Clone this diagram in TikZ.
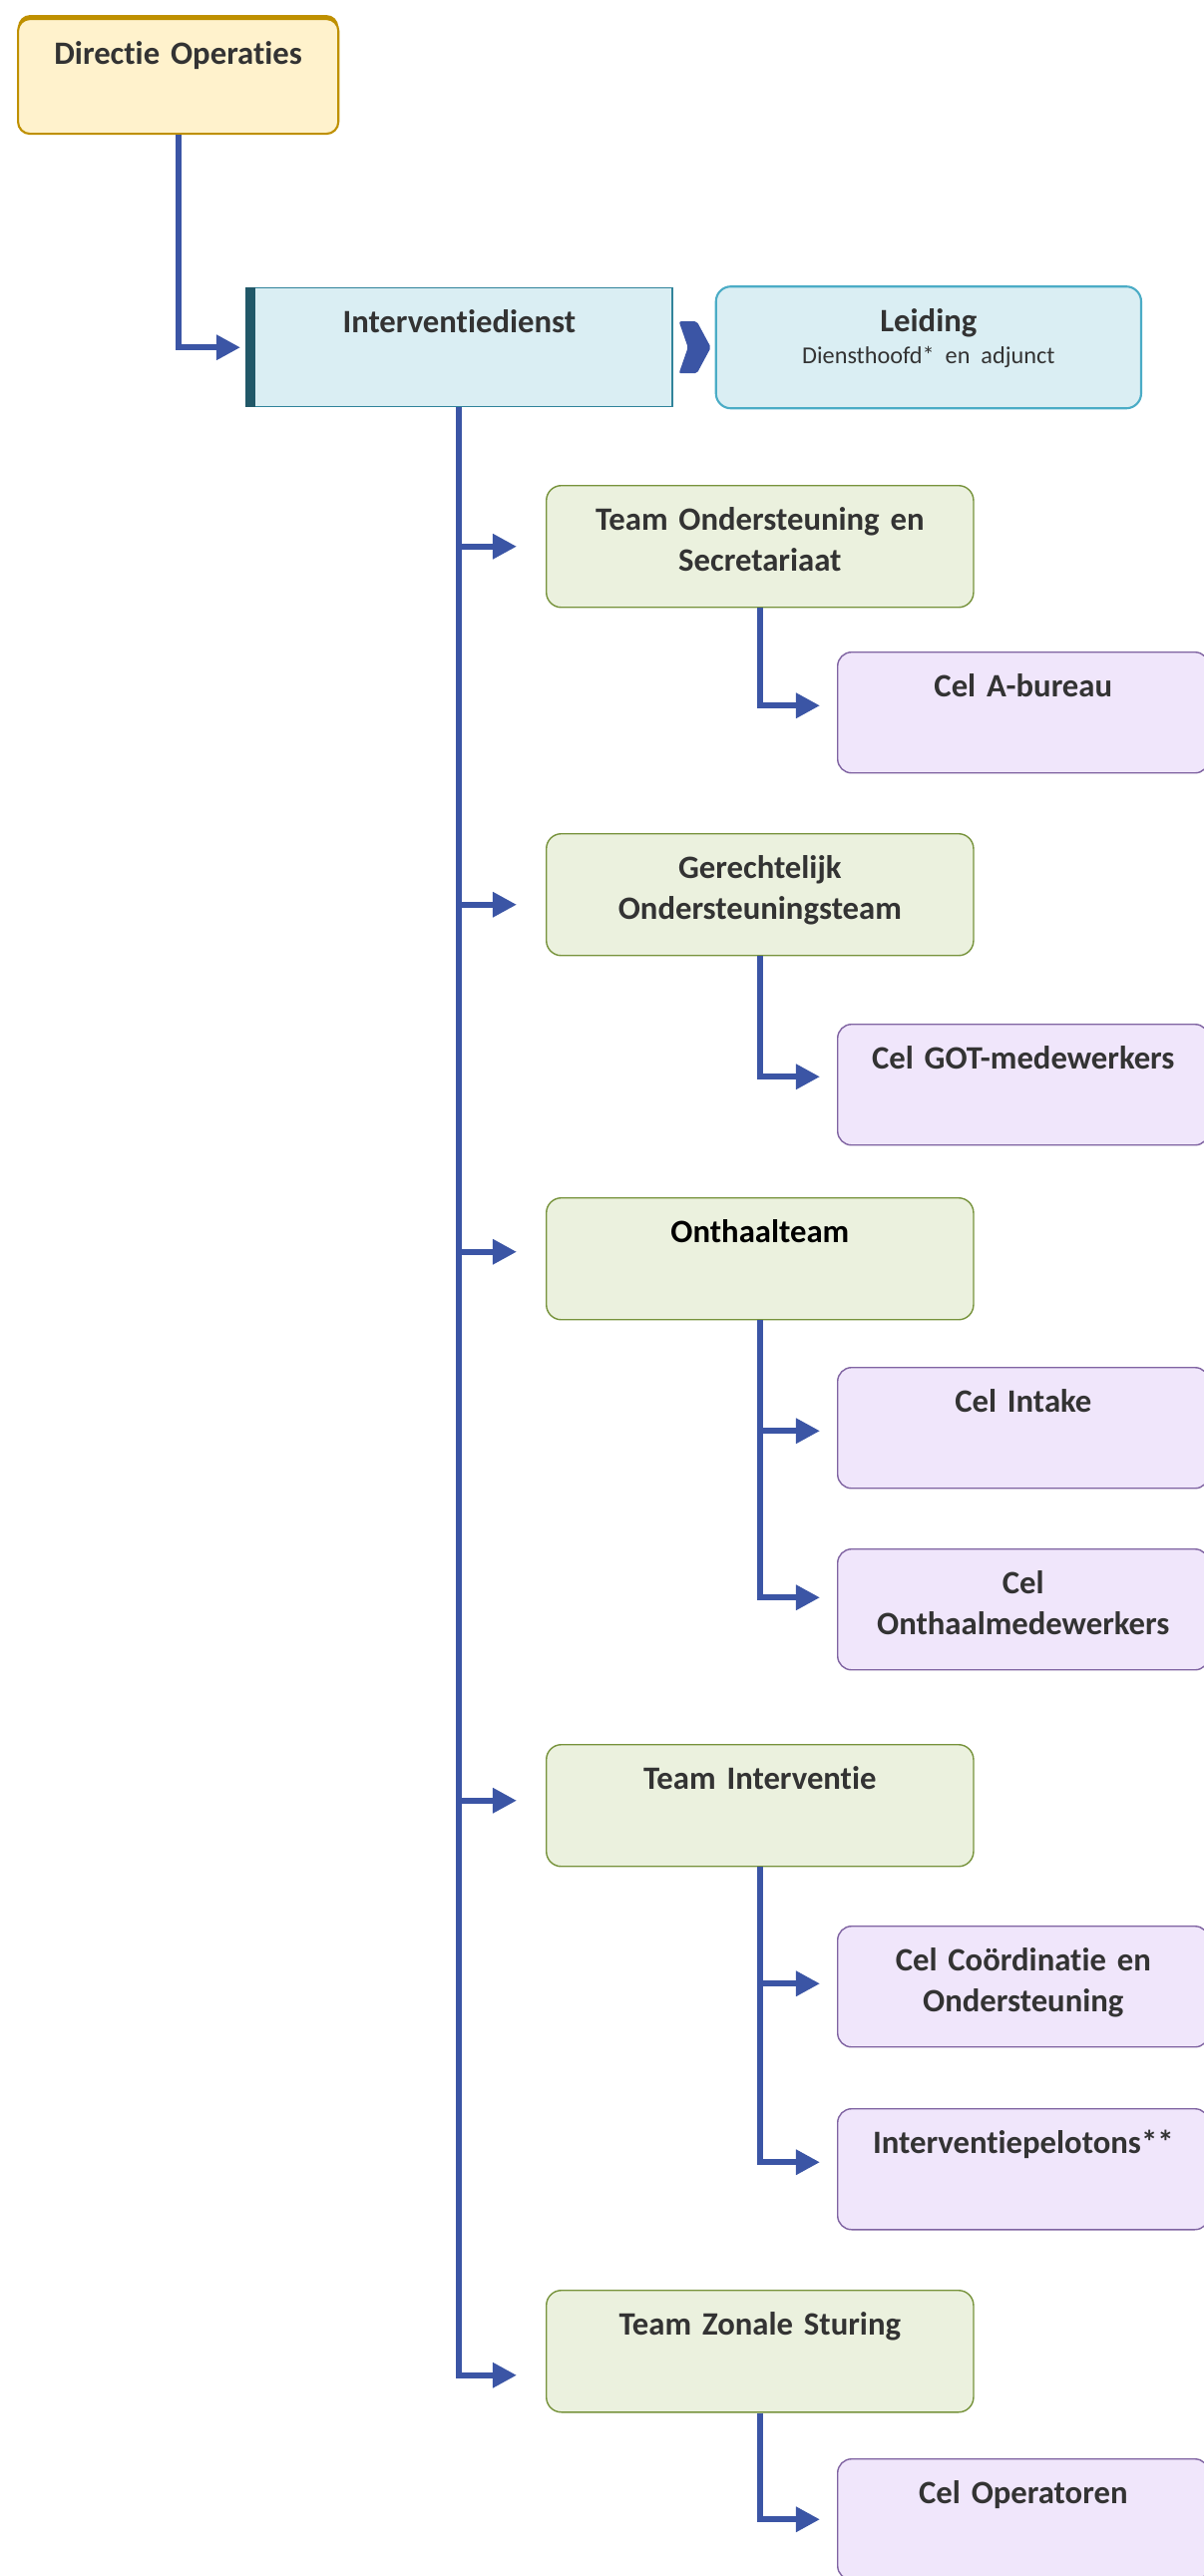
\documentclass[tikz,border=0pt]{standalone}
\usepackage{fontspec}
\setmainfont{Carlito}[Ligatures=NoCommon]
\usetikzlibrary{arrows.meta, positioning, shadows}

\definecolor{dirfill}{HTML}{FFF2CC}
\definecolor{dirline}{HTML}{BF9000}
\definecolor{idsfill}{HTML}{DAEEF3}
\definecolor{idsline}{HTML}{31849B}
\definecolor{idsbar}{HTML}{215868}
\definecolor{leidline}{HTML}{4BACC6}
\definecolor{teamfill}{HTML}{EBF1DE}
\definecolor{teamline}{HTML}{77933C}
\definecolor{celfill}{HTML}{F0E6FB}
\definecolor{celline}{HTML}{8064A2}
\definecolor{connblue}{HTML}{3B55A5}
\definecolor{txtgray}{HTML}{333333}

\begin{document}
\begin{tikzpicture}[
              x=0.01cm, y=-0.01cm,
              orgbox/.style={draw, line width=0.4pt, align=center, inner sep=0pt, anchor=north west,
                text height=0.45cm, text=txtgray, font=\bfseries\fontsize{9.3}{11.7}\selectfont},
              directie/.style={orgbox, fill=dirfill, draw=dirline, line width=0.6pt, rounded corners=0.12cm,
                text width=3.21cm, text depth=0.70cm, general shadow={fill=dirline, shadow yshift=0.04cm}},
              dienst/.style={orgbox, fill=idsfill, draw=idsline, text width=4.27cm, text depth=0.74cm},
              leiding/.style={orgbox, fill=idsfill, draw=leidline, line width=0.6pt, rounded corners=0.15cm,
                text width=4.26cm, text depth=0.77cm},
              team/.style={orgbox, fill=teamfill, draw=teamline, rounded corners=0.15cm, text width=4.28cm, text depth=0.77cm},
              cel/.style={orgbox, fill=celfill, draw=celline, rounded corners=0.14cm, text width=3.72cm, text depth=0.76cm},
              conn/.style={draw=connblue, line width=0.06cm},
              arrow/.style={conn, -{Triangle[length=0.24cm, width=0.24cm]}}
            ]
            \useasboundingbox (0,0) rectangle (1207,2582);
            \clip (0,0) rectangle (1207,2582);

            % Directie en dienst
            \node[directie] (dir) at (17,18) {Directie Operaties};
            \node[dienst] (ids) at (246,288) {Interventiedienst};
            \fill[idsbar] (ids.north west) rectangle ([xshift=0.1cm]ids.south west);
            \node[leiding, right=0.42cm of ids] (leid) {Leiding\\[-2.6pt]{\mdseries\fontsize{6.9}{8}\selectfont Diensthoofd* en adjunct}};
            \fill[connblue, rounded corners=0.02cm] ([shift={(6,-26)}]ids.east) -- ++(18,0) -- ++(14,26)
              -- ++(-14,26) -- ++(-18,0) -- ++(9,-26) -- cycle;

            % Teams
            \node[team] (tos) at (547,486) {Team Ondersteuning en\\Secretariaat};
            \node[team] (got) at (547,835) {Gerechtelijk\\Ondersteuningsteam};
            \node[team, text=black] (ont) at (547,1200) {Onthaalteam};
            \node[team] (tin) at (547,1748) {Team Interventie};
            \node[team] (zst) at (547,2295) {Team Zonale Sturing};

            % Cellen
            \node[cel] (cab) at (839,653) {Cel A-bureau};
            \node[cel] (cgot) at (839,1026) {Cel GOT-medewerkers};
            \node[cel] (cint) at (839,1370) {Cel Intake};
            \node[cel] (comw) at (839,1552) {Cel\\Onthaalmedewerkers};
            \node[cel] (cco) at (839,1930) {Cel Coördinatie en\\Ondersteuning};
            \node[cel] (cip) at (839,2113) {Interventiepelotons**};
            \node[cel] (cop) at (839,2464) {Cel Operatoren};

            % Ingangen van de pijlen
            \coordinate (tos-in) at ([shift={(-29,0)}]tos.west);
            \coordinate (got-in) at ([shift={(-29,10)}]got.west);
            \coordinate (ont-in) at ([shift={(-29,-7)}]ont.west);
            \coordinate (tin-in) at ([shift={(-29,-5)}]tin.west);
            \coordinate (zst-in) at ([shift={(-29,24)}]zst.west);
            \coordinate (cab-in) at ([shift={(-17,-7)}]cab.west);
            \coordinate (cgot-in) at ([shift={(-17,-8)}]cgot.west);
            \coordinate (cint-in) at ([shift={(-17,3)}]cint.west);
            \coordinate (comw-in) at ([shift={(-17,-12)}]comw.west);
            \coordinate (cco-in) at ([shift={(-17,-3)}]cco.west);
            \coordinate (cip-in) at ([shift={(-17,-7)}]cip.west);
            \coordinate (cop-in) at ([shift={(-17,0)}]cop.west);

            % Verbindingen
            \draw[arrow, shorten >=0.05cm] (dir.south) |- (ids.west);
            \draw[arrow] (ids.south) |- (zst-in);
            \draw[arrow] (ids.south |- tos-in) -- (tos-in);
            \draw[arrow] (ids.south |- got-in) -- (got-in);
            \draw[arrow] (ids.south |- ont-in) -- (ont-in);
            \draw[arrow] (ids.south |- tin-in) -- (tin-in);

            \draw[arrow] (tos.south) |- (cab-in);
            \draw[arrow] (got.south) |- (cgot-in);
            \draw[arrow] (ont.south) |- (cint-in);
            \draw[arrow] (ont.south) |- (comw-in);
            \draw[arrow] (tin.south) |- (cco-in);
            \draw[arrow] (tin.south) |- (cip-in);
            \draw[arrow] (zst.south) |- (cop-in);

            \end{tikzpicture}
\end{document}
